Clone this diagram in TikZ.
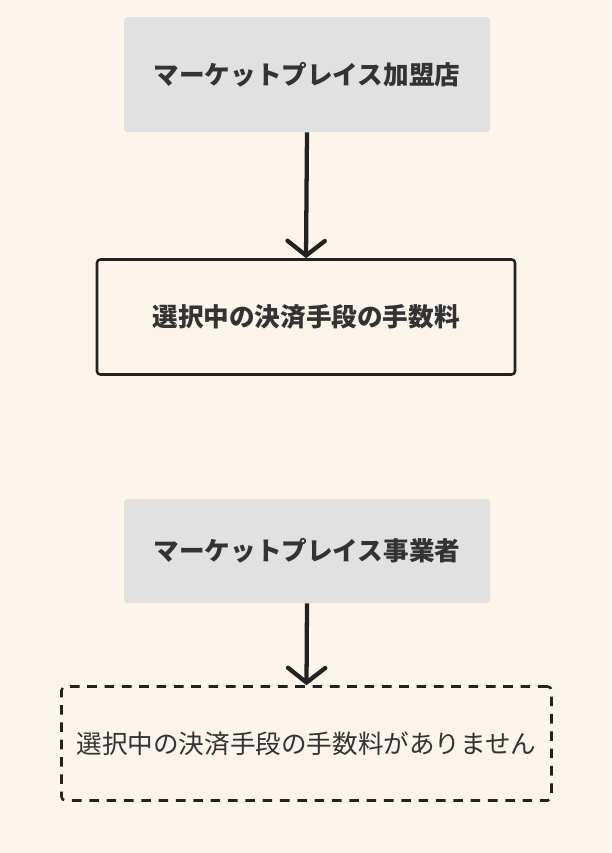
\documentclass[tikz,border=0pt]{standalone}
\usepackage{fontspec}
\setmainfont{Noto Sans CJK JP}
\usetikzlibrary{arrows.meta}
\definecolor{bgcream}{HTML}{FDF5EC}
\definecolor{boxgray}{HTML}{E1E1E1}
\definecolor{inkdark}{HTML}{222222}
\definecolor{txtdark}{HTML}{333333}
\begin{document}
\begin{tikzpicture}[x=0.75pt,y=-0.75pt]
% Background
\fill[bgcream] (0,0) rectangle (611,853);

\tikzstyle{party} = [shape=rectangle, fill=boxgray, rounded corners=2.5pt, minimum width=274.5pt, text=txtdark, font=\bfseries\fontsize{19.2}{22}\selectfont]
\tikzstyle{fee} = [draw=inkdark, shape=rectangle, line width=1.9pt, rounded corners=2.5pt, minimum height=86.25pt, text=txtdark, font=\bfseries\fontsize{19.2}{22}\selectfont]
\tikzstyle{nofee} = [draw=inkdark, shape=rectangle, line width=1.9pt, dash pattern=on 7.2pt off 5.8pt, rounded corners=3pt, minimum width=367.5pt, minimum height=85.5pt, text=txtdark, font=\fontsize{19.2}{22}\selectfont]
\tikzstyle{flow} = [draw=inkdark, line width=3.2pt, -{Straight Barb[length=11pt,width=28pt,line cap=round]}]

\node at (307,74.5)[party, minimum height=86.25pt](shop){マーケットプレイス加盟店};
\node at (306,317)[fee, minimum width=313.5pt](feeshop){選択中の決済手段の手数料};

\node at (307,551)[party, minimum height=78pt](operator){マーケットプレイス事業者};
\node at (306.5,743.5)[nofee](feeop){選択中の決済手段の手数料がありません};

\draw[flow] (shop.south) -- (feeshop.north);
\draw[flow] (operator.south) -- (feeop.north);

\end{tikzpicture}
\end{document}
